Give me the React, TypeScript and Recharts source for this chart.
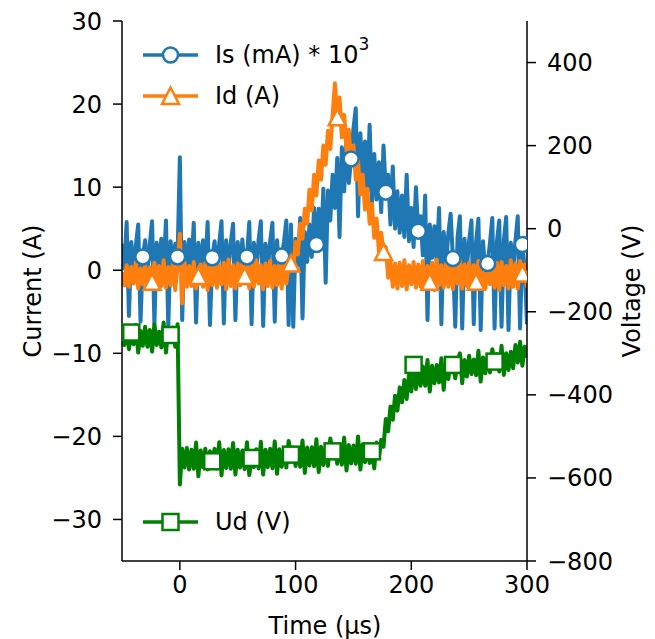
import React from 'react';
import { ComposedChart, Line, XAxis, YAxis } from 'recharts';

// scope samples every 2 µs starting at -50 µs
const T_START = -50;
const T_STEP = 2;

// Is (mA) * 10^3, read on the current axis
const isValues = [
  3.2, 0.2, 5.8, -5.5, 3.4, -0.3, 3.0, 5.5, -6.2, 1.6,
  3.6, -0.4, 3.1, 5.9, -6.5, 3.3, 0.1, 3.8, -0.2, 6.0,
  -6.8, 3.5, 0.0, 3.2, 1.6, 13.6, -6.0, 3.4, -0.3, 3.7,
  0.2, 5.7, -6.3, 3.3, -0.1, 3.6, 0.3, 5.8, -6.6, 1.5,
  3.5, -0.2, 3.2, 5.9, -6.4, 3.6, 0.1, 3.3, 5.6, -6.0,
  3.4, -0.3, 3.7, 0.2, 1.6, 5.8, -6.5, 3.3, 0.0, 3.6,
  5.9, -6.7, 3.2, -0.2, 3.5, 5.7, -6.2, 3.6, 0.1, 1.7,
  3.4, 6.0, -6.6, 5.5, -6.8, 3.8, 0.6, 6.3, -5.8, 4.6,
  1.0, 5.5, 1.6, 7.5, 3.1, 7.4, 2.8, 9.8, -1.5, 9.6,
  6.0, 11.5, 7.5, 13.5, 4.0, 14.8, 9.5, 16.0, 10.5, 13.4,
  17.0, 19.5, 6.5, 16.5, 10.5, 15.5, 9.5, 17.5, 8.0, 14.0,
  8.5, 13.0, 7.0, 15.0, 9.4, 11.5, 5.5, 12.5, 5.0, 9.5,
  4.5, 9.0, 4.0, 11.5, 3.5, 7.5, 2.8, 10.0, 4.7, 6.5,
  1.8, 9.0, -6.0, 5.5, 1.5, 5.3, 0.8, 7.5, -6.5, 4.6,
  0.5, 4.4, 6.8, 1.4, -6.8, 4.0, 6.5, -7.0, 3.8, 0.2,
  3.6, 6.0, -6.5, 3.4, 6.2, -7.2, 3.5, -0.3, 0.8, 3.3,
  6.3, -7.0, 3.4, 6.0, -6.8, 3.6, 6.4, -7.2, 3.3, -0.2,
  3.5, 6.5, -7.0, 3.1, 0.2, -6.5,
];

// Id (A)
const idValues = [
  -0.2, -1.8, 0.6, -2.0, 0.4, -1.6, 1.0, -2.2, 0.2, -1.7,
  0.8, -2.0, 0.3, -1.4, 0.9, -2.3, 0.5, -1.9, 1.2, -2.1,
  0.4, -1.8, 0.8, -2.4, 0.6, 4.4, -4.0, 0.9, -2.0, 0.5,
  -1.9, 1.0, -2.2, -0.7, 0.7, -2.0, 0.9, -2.4, 0.4, -1.8,
  1.1, -2.1, 0.5, -1.7, 0.9, -2.3, 1.3, -1.9, 0.6, -2.2,
  0.8, -1.8, 1.0, -0.7, 0.4, -2.2, 0.9, -2.0, 1.2, -1.6,
  0.6, -2.3, 0.8, -1.9, 1.1, -2.1, 0.5, -1.8, 0.9, -2.2,
  1.0, -1.6, 0.7, 0.8, 0.3, 3.4, 1.9, 5.6, 3.8, 7.4,
  5.6, 9.7, 7.2, 11.5, 9.0, 13.2, 10.9, 15.0, 12.7, 16.8,
  14.6, 18.6, 22.5, 18.4, 20.8, 16.0, 18.7, 14.4, 16.9, 12.6,
  15.0, 10.9, 13.2, 9.1, 11.5, 7.3, 9.8, 5.6, 8.0, 3.9,
  6.2, 2.3, 4.5, 2.2, 2.8, -0.9, 1.1, -2.0, 0.8, -2.2,
  0.9, -1.9, 1.2, -2.3, 0.6, -1.7, 1.0, -2.1, 0.7, -2.0,
  1.1, -2.2, 0.5, -1.4, 0.9, -2.4, 1.3, -1.8, 0.6, -2.1,
  0.8, -2.0, 1.0, -2.3, 0.5, -1.6, 1.2, -2.2, 0.7, -1.9,
  0.9, -2.3, 0.6, -1.4, 1.1, -2.0, 0.8, -2.2, 1.3, -1.7,
  0.6, -2.1, 0.9, -2.4, 1.0, -1.8, 0.5, -2.2, 1.2, -2.0,
  0.8, -2.2, 1.1, -0.4, 0.7, -2.1,
];

// Ud (V), on the voltage axis
const udValues = [
  -245, -280, -238, -290, -250, -278, -232, -298, -246, -282,
  -236, -284, -244, -296, -230, -280, -248, -286, -226, -298,
  -240, -256, -238, -284, -230, -616, -530, -575, -528, -580,
  -532, -578, -515, -596, -534, -574, -530, -580, -536, -560,
  -530, -577, -514, -594, -533, -576, -531, -578, -516, -592,
  -532, -575, -534, -579, -514, -593, -552, -574, -531, -577,
  -513, -592, -532, -574, -530, -577, -512, -590, -531, -573,
  -529, -575, -511, -544, -527, -571, -530, -573, -510, -588,
  -527, -570, -526, -572, -507, -586, -525, -569, -527, -571,
  -505, -536, -522, -566, -524, -568, -503, -582, -521, -565,
  -522, -566, -500, -580, -519, -562, -521, -564, -536, -577,
  -515, -552, -508, -525, -458, -488, -428, -460, -402, -438,
  -382, -418, -364, -410, -352, -392, -328, -386, -338, -378,
  -332, -378, -316, -392, -330, -372, -328, -370, -312, -388,
  -322, -362, -318, -328, -360, -320, -300, -372, -316, -356,
  -306, -350, -315, -353, -294, -368, -310, -348, -308, -346,
  -290, -320, -302, -344, -282, -352, -300, -340, -296, -336,
  -280, -322, -272, -330, -284, -310,
];

// samples that carry a marker
const isMarkTimes = [-32, -2, 28, 58, 88, 118, 148, 178, 206, 236, 266, 296];
const idMarkTimes = [-24, 16, 56, 96, 136, 176, 216, 256, 296];
const udMarkTimes = [-42, -8, 28, 62, 96, 132, 166, 202, 236, 272];

const timeTicks = [0, 100, 200, 300];
const currentTicks = [-30, -20, -10, 0, 10, 20, 30];
const voltageTicks = [-800, -600, -400, -200, 0, 200, 400];

const data = isValues.map((v, i) => ({
  t: T_START + i * T_STEP,
  is: v,
  id: idValues[i],
  ud: udValues[i],
}));

const BLUE = '#1f77b4';
const ORANGE = '#ff7f0e';
const GREEN = '#008000';
const FONT = 'DejaVu Sans, Verdana, sans-serif';
const FS = 24;
const LINE_W = 4;
const tickStyle = { fontSize: FS, fill: '#000', fontFamily: FONT };
const fmt = (v: number) => String(v).replace('-', '\u2212');

type Kind = 'circle' | 'triangle' | 'square';

const marker = (kind: Kind, color: string, x: number, y: number, key?: string) => {
  const common = { fill: '#fff', stroke: color, strokeWidth: 2.5 };
  if (kind === 'circle') return <circle key={key} cx={x} cy={y} r={7.5} {...common} />;
  if (kind === 'square')
    return <rect key={key} x={x - 8} y={y - 8} width={16} height={16} {...common} />;
  return (
    <polygon
      key={key}
      points={`${x},${y - 8.5} ${x - 8.5},${y + 8} ${x + 8.5},${y + 8}`}
      {...common}
    />
  );
};

const makeDot = (times: number[], kind: Kind, color: string) => (props: any) => {
  const { cx, cy, payload, index } = props;
  const key = `${kind}-${index}`;
  if (cx == null || cy == null || !times.includes(payload.t)) return <g key={key} />;
  return marker(kind, color, cx, cy, key);
};

const LegendItem = ({ y, kind, color, children }: any) => (
  <g>
    <line x1={143} x2={198} y1={y} y2={y} stroke={color} strokeWidth={3.5} />
    {marker(kind, color, 170.5, y)}
    <text x={215} y={y} dominantBaseline="central" fontSize={FS} fontFamily={FONT} fill="#000">
      {children}
    </text>
  </g>
);

const axisStroke = { stroke: '#000', strokeWidth: 1.5 };

export default function App() {
  return (
    <div style={{ position: 'absolute', left: 0, top: 0, width: 655, height: 639, background: '#fff' }}>
      <ComposedChart
        width={655}
        height={639}
        data={data}
        margin={{ top: 21, right: 0, bottom: 0, left: 0 }}
      >
        <XAxis
          dataKey="t"
          type="number"
          domain={[-50, 300]}
          ticks={timeTicks}
          allowDataOverflow
          height={78}
          tickSize={9}
          tickMargin={6}
          tick={tickStyle}
          axisLine={axisStroke}
          tickLine={axisStroke}
          tickFormatter={fmt}
        />
        <XAxis
          xAxisId="top"
          orientation="top"
          dataKey="t"
          type="number"
          domain={[-50, 300]}
          height={0}
          tick={false}
          tickLine={false}
          axisLine={axisStroke}
        />
        <YAxis
          yAxisId="left"
          type="number"
          domain={[-35, 30]}
          ticks={currentTicks}
          allowDataOverflow
          width={122}
          tickSize={9}
          tickMargin={11}
          tick={tickStyle}
          axisLine={axisStroke}
          tickLine={axisStroke}
          tickFormatter={fmt}
        />
        <YAxis
          yAxisId="right"
          orientation="right"
          type="number"
          domain={[-800, 500]}
          ticks={voltageTicks}
          allowDataOverflow
          width={128}
          tickSize={9}
          tickMargin={11}
          tick={tickStyle}
          axisLine={axisStroke}
          tickLine={axisStroke}
          tickFormatter={fmt}
        />
        <Line
          yAxisId="left"
          dataKey="is"
          type="linear"
          stroke={BLUE}
          strokeWidth={LINE_W}
          strokeLinejoin="round"
          dot={makeDot(isMarkTimes, 'circle', BLUE)}
          activeDot={false}
          isAnimationActive={false}
        />
        <Line
          yAxisId="left"
          dataKey="id"
          type="linear"
          stroke={ORANGE}
          strokeWidth={LINE_W}
          strokeLinejoin="round"
          dot={makeDot(idMarkTimes, 'triangle', ORANGE)}
          activeDot={false}
          isAnimationActive={false}
        />
        <Line
          yAxisId="right"
          dataKey="ud"
          type="linear"
          stroke={GREEN}
          strokeWidth={LINE_W}
          strokeLinejoin="round"
          dot={makeDot(udMarkTimes, 'square', GREEN)}
          activeDot={false}
          isAnimationActive={false}
        />
      </ComposedChart>
      <svg
        width={655}
        height={639}
        style={{ position: 'absolute', left: 0, top: 0, pointerEvents: 'none' }}
      >
        <LegendItem y={55} kind="circle" color={BLUE}>
          Is (mA) * 10
          <tspan dy={-11} fontSize={17}>3</tspan>
        </LegendItem>
        <LegendItem y={96} kind="triangle" color={ORANGE}>
          Id (A)
        </LegendItem>
        <LegendItem y={522} kind="square" color={GREEN}>
          Ud (V)
        </LegendItem>
        <text
          x={325}
          y={626}
          textAnchor="middle"
          dominantBaseline="central"
          fontSize={FS}
          fontFamily={FONT}
        >
          Time (µs)
        </text>
        <text
          transform="translate(33,291) rotate(-90)"
          textAnchor="middle"
          dominantBaseline="central"
          fontSize={FS}
          fontFamily={FONT}
        >
          Current (A)
        </text>
        <text
          transform="translate(632,291) rotate(-90)"
          textAnchor="middle"
          dominantBaseline="central"
          fontSize={FS}
          fontFamily={FONT}
        >
          Voltage (V)
        </text>
      </svg>
    </div>
  );
}
